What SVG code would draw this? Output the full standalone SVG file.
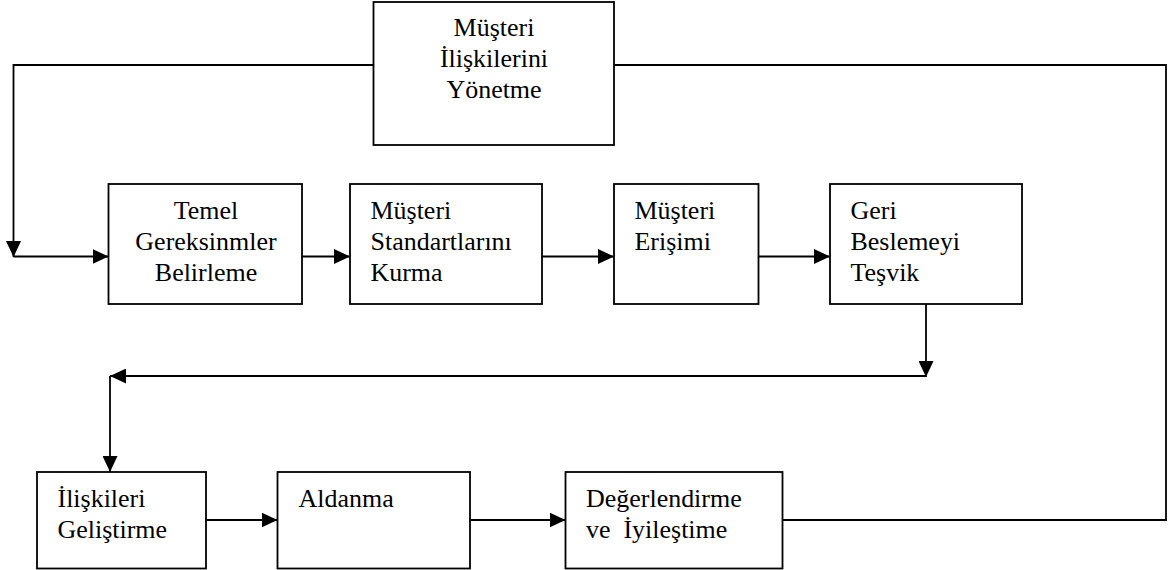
<svg xmlns="http://www.w3.org/2000/svg" width="1169" height="570" viewBox="0 0 1169 570">
  <style>
    .box { fill: #fff; stroke: #000; stroke-width: 1.8; }
    .wire { fill: none; stroke: #000; stroke-width: 1.8; }
    .lbl { font-family: 'Liberation Serif', 'Times New Roman', serif; font-size: 24.5px; fill: #000; }
    .c { text-anchor: middle; }
  </style>
  <defs>
    <marker id="arrow" viewBox="0 0 16 15" refX="16" refY="7.5" markerWidth="16" markerHeight="15" markerUnits="userSpaceOnUse" orient="auto">
      <path d="M0,0 L16,7.5 L0,15 Z" fill="#000"/>
    </marker>
  </defs>
  <rect width="1169" height="570" fill="#fff"/>

  <g id="connectors">
    <!-- left feedback loop from the top box into row 1 -->
    <path class="wire" d="M373.5,65 H13.5 V257" marker-end="url(#arrow)"/>
    <path class="wire" d="M13.5,256.5 H108.5" marker-end="url(#arrow)"/>
    <!-- row 1 -->
    <path class="wire" d="M302,256.5 H350" marker-end="url(#arrow)"/>
    <path class="wire" d="M542,256.5 H614" marker-end="url(#arrow)"/>
    <path class="wire" d="M758.5,256.5 H830" marker-end="url(#arrow)"/>
    <!-- down from Geri Beslemeyi Teşvik, then back to the left -->
    <path class="wire" d="M926,304 V377" marker-end="url(#arrow)"/>
    <path class="wire" d="M926,376 H110" marker-end="url(#arrow)"/>
    <path class="wire" d="M110,376 V472" marker-end="url(#arrow)"/>
    <!-- row 2 -->
    <path class="wire" d="M206,520 H277.5" marker-end="url(#arrow)"/>
    <path class="wire" d="M470,520 H565.5" marker-end="url(#arrow)"/>
    <!-- right loop back to the top box -->
    <path class="wire" d="M782.5,520 H1166 V65 H614"/>
  </g>

  <g id="node-yonetme" class="lbl">
    <rect class="box" x="373.5" y="2" width="240.5" height="143"/>
    <text class="c" transform="translate(494,36) scale(1.06,1)">Müşteri</text>
    <text class="c" transform="translate(494,67) scale(1.06,1)">İlişkilerini</text>
    <text class="c" transform="translate(494,98) scale(1.06,1)">Yönetme</text>
  </g>

  <g id="node-temel" class="lbl">
    <rect class="box" x="108.5" y="184" width="193.5" height="120"/>
    <text class="c" transform="translate(206,218.5) scale(1.06,1)">Temel</text>
    <text class="c" transform="translate(206,249.5) scale(1.06,1)">Gereksinmler</text>
    <text class="c" transform="translate(206,280.5) scale(1.06,1)">Belirleme</text>
  </g>

  <g id="node-standart" class="lbl">
    <rect class="box" x="350" y="184" width="192" height="120"/>
    <text transform="translate(370.5,218.5) scale(1.06,1)">Müşteri</text>
    <text transform="translate(370.5,249.5) scale(1.06,1)">Standartlarını</text>
    <text transform="translate(370.5,280.5) scale(1.06,1)">Kurma</text>
  </g>

  <g id="node-erisim" class="lbl">
    <rect class="box" x="614" y="184" width="144.5" height="120"/>
    <text transform="translate(634.5,218.5) scale(1.06,1)">Müşteri</text>
    <text transform="translate(634.5,249.5) scale(1.06,1)">Erişimi</text>
  </g>

  <g id="node-geri" class="lbl">
    <rect class="box" x="830" y="184" width="192" height="120"/>
    <text transform="translate(850.5,218.5) scale(1.06,1)">Geri</text>
    <text transform="translate(850.5,249.5) scale(1.06,1)">Beslemeyi</text>
    <text transform="translate(850.5,280.5) scale(1.06,1)">Teşvik</text>
  </g>

  <g id="node-iliski" class="lbl">
    <rect class="box" x="37" y="472" width="169" height="96.5"/>
    <text transform="translate(57.5,506.5) scale(1.06,1)">İlişkileri</text>
    <text transform="translate(57.5,538) scale(1.06,1)">Geliştirme</text>
  </g>

  <g id="node-aldanma" class="lbl">
    <rect class="box" x="277.5" y="472" width="192.5" height="96.5"/>
    <text transform="translate(298.5,506.5) scale(1.06,1)">Aldanma</text>
  </g>

  <g id="node-deger" class="lbl">
    <rect class="box" x="565.5" y="472" width="217" height="96.5"/>
    <text transform="translate(586,506.5) scale(1.06,1)">Değerlendirme</text>
    <text transform="translate(586,538) scale(1.06,1)" xml:space="preserve">ve  İyileştime</text>
  </g>
</svg>
